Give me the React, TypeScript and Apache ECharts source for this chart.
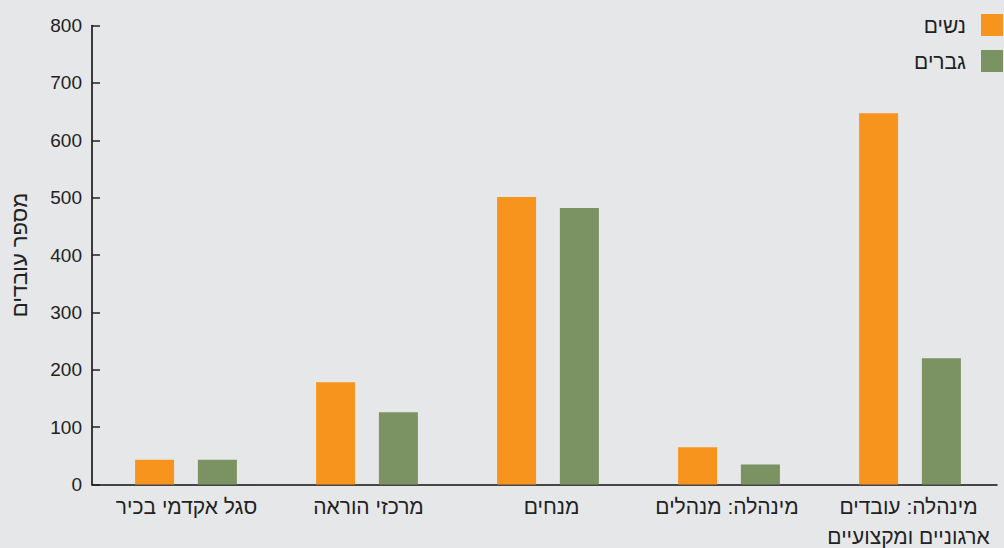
import React, { useEffect, useRef } from "react";
import * as echarts from "echarts";

const categories = [
  "סגל אקדמי בכיר",
  "מרכזי הוראה",
  "מנחים",
  "מינהלה: מנהלים",
  "מינהלה: עובדים\nארגוניים ומקצועיים",
];
const women = [43, 178, 501, 65, 647];
const men = [43, 126, 482, 35, 220];
const seriesNames = ["נשים", "גברים"];
const yAxisName = "מספר עובדים";

const FONT = "'Liberation Sans', Arial, sans-serif";
// small per-label horizontal nudges (left padding, px) to match the reference placement
const labelNudge = [8, 10, 14, 3, 4];

export default function App() {
  const ref = useRef<HTMLDivElement>(null);
  useEffect(() => {
    if (!ref.current) return;
    const chart = echarts.init(ref.current, undefined, { renderer: "svg" });
    const gridBase = { top: 25.5, bottom: 63.5, outerBoundsMode: "none", containLabel: false };
    chart.setOption({
      animation: false,
      backgroundColor: "#e6e7e9",
      textStyle: { fontFamily: FONT },
      legend: {
        right: 1,
        top: 14,
        padding: 0,
        orient: "vertical",
        align: "right",
        itemWidth: 22,
        itemHeight: 22,
        itemGap: 14,
        icon: "rect",
        textStyle: { fontSize: 21, color: "#222", fontFamily: FONT, padding: [0, 10, 0, 0] },
        data: seriesNames,
      },
      grid: [
        { ...gridBase, left: 92, right: 7 },
        { ...gridBase, left: 95.5, right: 3.5 },
      ],
      xAxis: [
        {
          type: "category",
          gridIndex: 0,
          data: categories.map((c, i) => ({
            value: c,
            textStyle: { padding: [0, 0, 0, labelNudge[i]] },
          })),
          boundaryGap: true,
          axisLine: { lineStyle: { color: "#111", width: 1.6 } },
          axisTick: { inside: true, length: 11, lineStyle: { color: "#222", width: 1.5 } },
          axisLabel: {
            fontSize: 21,
            color: "#222",
            margin: 7,
            lineHeight: 30,
            fontFamily: FONT,
            interval: 0,
          },
        },
        {
          type: "category",
          gridIndex: 1,
          data: categories,
          show: false,
        },
      ],
      yAxis: [
        {
          type: "value",
          gridIndex: 0,
          min: 0,
          max: 800,
          interval: 100,
          name: yAxisName,
          nameLocation: "middle",
          nameGap: 62,
          nameTextStyle: { fontSize: 22, color: "#222", fontFamily: FONT },
          axisLine: { show: true, lineStyle: { color: "#111", width: 1.6 } },
          axisTick: { show: true, inside: true, length: 8, lineStyle: { color: "#222", width: 1.5 } },
          splitLine: { show: false },
          axisLabel: { fontSize: 19, color: "#222", margin: 10, fontFamily: FONT },
        },
        {
          type: "value",
          gridIndex: 1,
          min: 0,
          max: 800,
          interval: 100,
          show: false,
          splitLine: { show: false },
        },
      ],
      series: [
        {
          name: seriesNames[0],
          type: "bar",
          xAxisIndex: 1,
          yAxisIndex: 1,
          data: women,
          barWidth: 39,
          barGap: "61%",
          itemStyle: { color: "#f7941e" },
        },
        {
          name: seriesNames[1],
          type: "bar",
          xAxisIndex: 1,
          yAxisIndex: 1,
          data: men,
          barWidth: 39,
          itemStyle: { color: "#7b9263" },
        },
      ],
    });
    return () => chart.dispose();
  }, []);
  return <div ref={ref} style={{ width: 1004, height: 548, position: "absolute", left: 0, top: 0 }} />;
}
